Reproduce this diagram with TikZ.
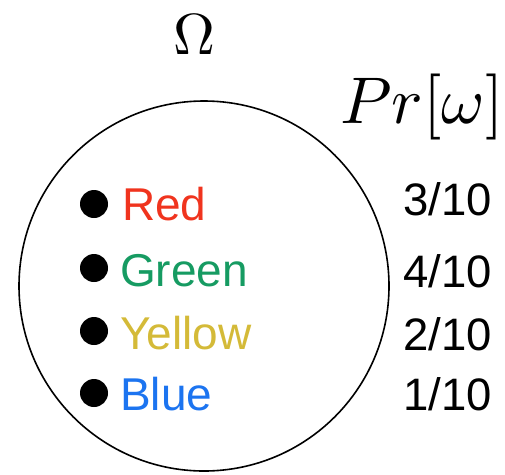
\documentclass[tikz,border=0pt]{standalone}
\usepackage{graphicx}
\usepackage{fontspec}
\newfontfamily\labelfont{Liberation Sans}
\definecolor{cred}{RGB}{240,52,30}
\definecolor{cgreen}{RGB}{22,155,98}
\definecolor{cyellow}{RGB}{212,186,56}
\definecolor{cblue}{RGB}{28,116,240}
\begin{document}
\begin{tikzpicture}[x=1pt,y=-1pt,
  dot/.style={circle,fill=black,minimum size=28pt,inner sep=0pt},
  lbl/.style={anchor=base west,inner sep=0pt,font=\labelfont\fontsize{46}{54}\selectfont},
  prob/.style={anchor=base east,inner sep=0pt,font=\labelfont\fontsize{45.5}{54}\selectfont}]
\useasboundingbox (0,0) rectangle (505,474);
\node[draw=black,line width=1.6pt,circle,minimum size=370pt,inner sep=0pt] (omega) at (204,286) {};
\node[anchor=base,inner sep=0pt] (title) at (194,54) {\scalebox{5.8}{$\Omega$}};
\node[anchor=base west,inner sep=0pt] (pr) at (340,123) {\scalebox{6.6}{$Pr[\omega]$}};
\node[dot] (d1) at (94,204) {};
\node[dot] (d2) at (94,268) {};
\node[dot] (d3) at (94,331) {};
\node[dot] (d4) at (94,393) {};
\node[lbl,text=cred] (red) at (122,220) {Red};
\node[lbl,text=cgreen] (green) at (120,286) {Green};
\node[lbl,text=cyellow] (yellow) at (120,349) {Yellow};
\node[lbl,text=cblue] (blue) at (120,410) {Blue};
\node[prob] (p1) at (492,215) {3/10};
\node[prob] (p2) at (492,287) {4/10};
\node[prob] (p3) at (492,350) {2/10};
\node[prob] (p4) at (492,410) {1/10};
\end{tikzpicture}
\end{document}
